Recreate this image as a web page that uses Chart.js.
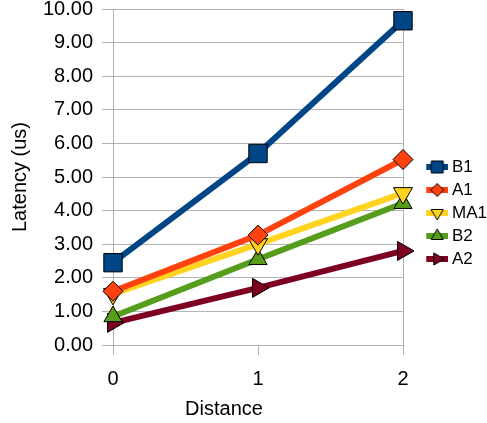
<!DOCTYPE html>
<html>
<head>
<meta charset="utf-8">
<script src="https://cdn.jsdelivr.net/npm/chart.js@4/dist/chart.umd.min.js"></script>
<style>
    html, body { margin: 0; padding: 0; background: #fff; }
    #wrap { width: 487px; height: 423px; }
</style>
</head>
<body>
<div id="wrap"><canvas id="latency-chart" width="487" height="423"></canvas></div>
<script>
// Data
const distances = ["0", "1", "2"];
const b1 = [2.45, 5.7, 9.65];
const a1 = [1.6, 3.27, 5.52];
const ma1 = [1.52, 3.0, 4.52];
const b2 = [0.85, 2.55, 4.22];
const a2 = [0.66, 1.7, 2.8];
const yTitle = "Latency (us)";
const xTitle = "Distance";

const fontFamily = '"Liberation Sans", Arial, sans-serif';
Chart.defaults.font.family = fontFamily;
Chart.defaults.color = "#000";

const gridColor = "#b3b3b3";

// Legend icons: short thick line with the marker on top
function makeIcon(color, style, rotation, radius) {
    const cv = document.createElement("canvas");
    cv.width = 44;
    cv.height = 16;
    const g = cv.getContext("2d");
    g.fillStyle = color;
    g.fillRect(22, 5, 22, 6);
    g.strokeStyle = "#000";
    g.lineWidth = 1;
    Chart.helpers.drawPoint(g, { pointStyle: style, rotation: rotation, radius: radius, borderWidth: 1 }, 33, 8);
    return cv;
}

function series(label, data, color, style, rotation, radius, iconRadius) {
    return {
        label,
        data,
        borderColor: color,
        backgroundColor: color,
        borderWidth: 6,
        pointStyle: style,
        pointRotation: rotation,
        pointRadius: radius,
        pointHoverRadius: radius,
        pointBorderColor: "#000",
        pointBorderWidth: 1,
        pointBackgroundColor: color,
        tension: 0,
        fill: false,
        icon: makeIcon(color, style, rotation, iconRadius)
    };
}

const datasets = [
    series("B1", b1, "#004586", "rect", 0, 13, 8.5),
    series("A1", a1, "#ff420e", "rectRot", 0, 10, 6.5),
    series("MA1", ma1, "#ffd320", "triangle", 180, 11, 7),
    series("B2", b2, "#579d1c", "triangle", 0, 10.5, 7),
    series("A2", a2, "#7e0021", "triangle", 90, 11, 7)
];

// x axis title sits left of the plot centre in the original
const xTitlePlugin = {
    id: "xTitle",
    afterDraw(chart) {
        const c = chart.ctx;
        c.save();
        c.font = "20px " + fontFamily;
        c.fillStyle = "#000";
        c.textAlign = "center";
        c.textBaseline = "middle";
        c.fillText(xTitle, 224, 409);
        c.restore();
    }
};

new Chart(document.getElementById("latency-chart").getContext("2d"), {
    type: "line",
    data: { labels: distances, datasets },
    options: {
        responsive: false,
        animation: false,
        layout: { autoPadding: false, padding: { top: 9, left: 0, right: 0, bottom: 6 } },
        scales: {
            x: {
                offset: false,
                afterFit(s) { s.height = 72; },
                grid: {
                    offset: false,
                    color: ctx => ctx.index === 1 ? "rgba(0,0,0,0)" : gridColor,
                    tickColor: gridColor,
                    tickLength: 10
                },
                border: { display: false },
                ticks: { font: { size: 20 }, padding: 12, color: "#000" }
            },
            y: {
                min: 0,
                max: 10,
                afterFit(s) { s.width = 113; s.paddingTop = 0; s.paddingBottom = 0; },
                grid: { color: gridColor, tickLength: 11 },
                border: { color: gridColor },
                ticks: {
                    stepSize: 1,
                    padding: 9,
                    font: { size: 20 },
                    color: "#000",
                    callback: v => v.toFixed(2)
                },
                title: {
                    display: true,
                    text: yTitle,
                    font: { size: 20 },
                    color: "#000",
                    padding: { top: 8, bottom: 0 }
                }
            }
        },
        plugins: {
            tooltip: { enabled: false },
            legend: {
                position: "right",
                align: "center",
                maxWidth: 84,
                labels: {
                    usePointStyle: true,
                    pointStyleWidth: 34.5,
                    padding: 6,
                    font: { size: 17 },
                    color: "#000",
                    generateLabels(chart) {
                        return chart.data.datasets.map((ds, i) => ({
                            text: ds.label,
                            pointStyle: ds.icon,
                            fillStyle: ds.backgroundColor,
                            strokeStyle: ds.borderColor,
                            lineWidth: 0,
                            hidden: !chart.isDatasetVisible(i),
                            datasetIndex: i,
                            fontColor: "#000"
                        }));
                    }
                }
            }
        }
    },
    plugins: [xTitlePlugin]
});
</script>
</body>
</html>
